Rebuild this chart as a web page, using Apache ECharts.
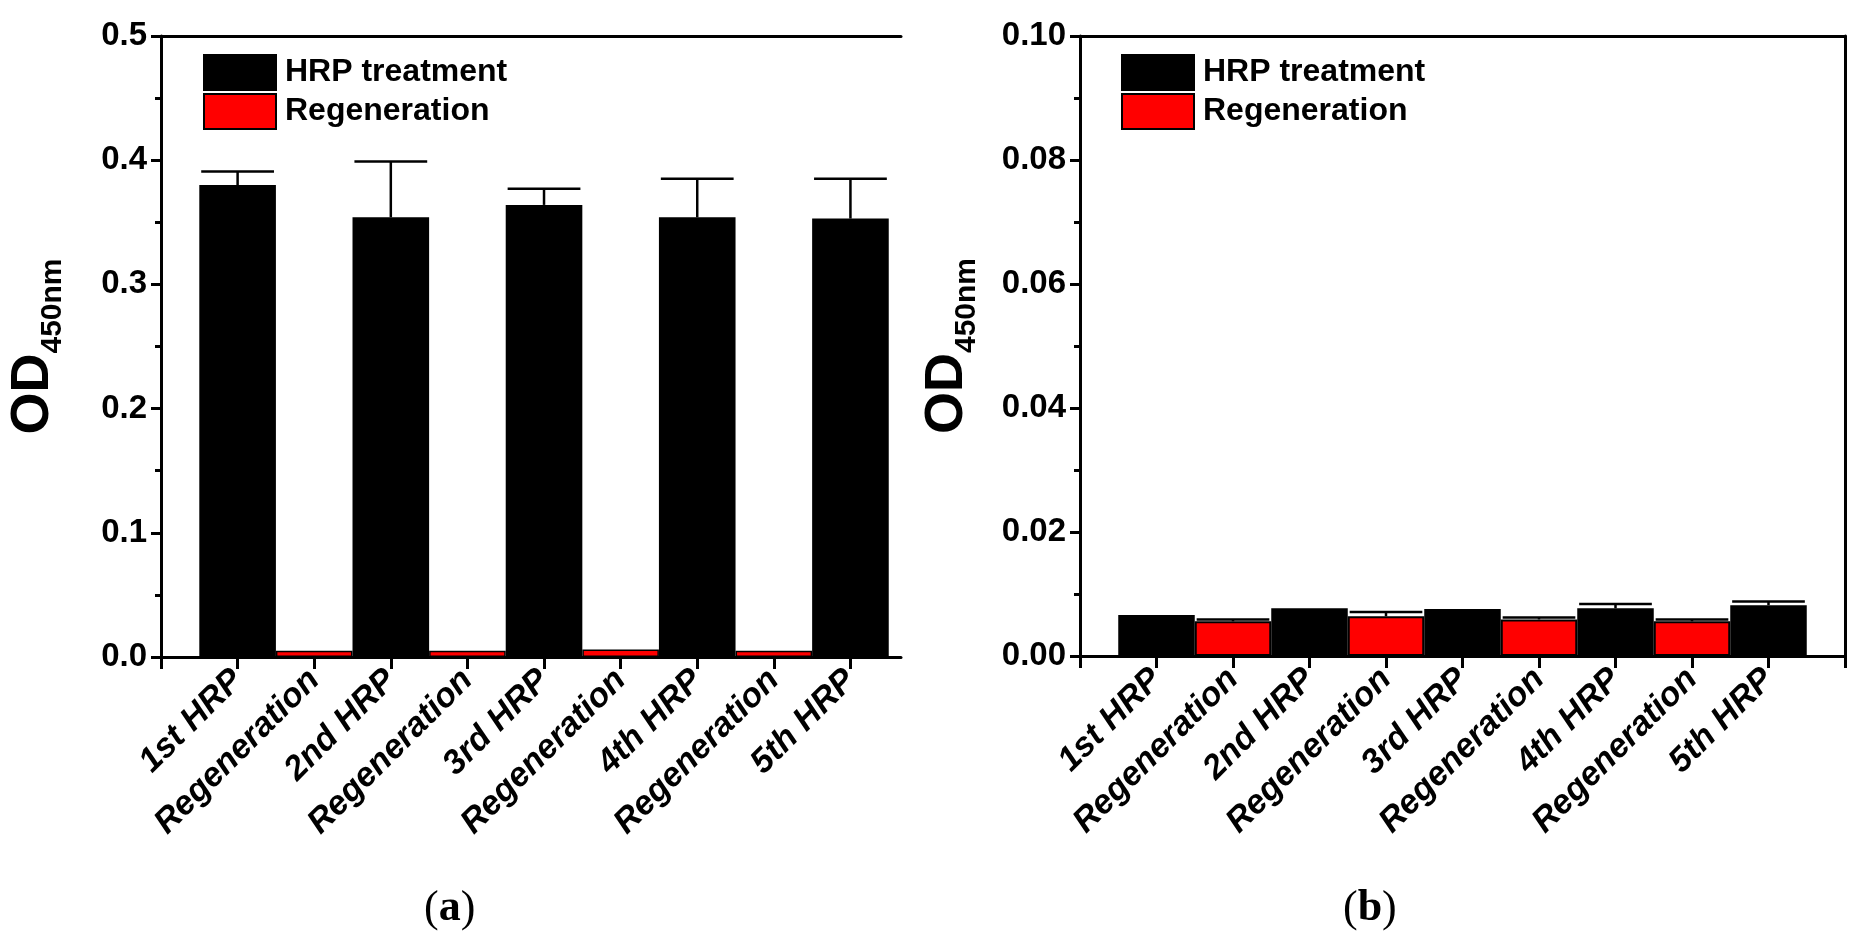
<!DOCTYPE html>
<html>
<head>
<meta charset="utf-8">
<script src="https://cdn.jsdelivr.net/npm/echarts@6/dist/echarts.min.js"></script>
<style>
html,body{margin:0;padding:0;background:#fff;}
#c{width:1863px;height:947px;}
</style>
</head>
<body>
<div id="c"></div>
<script>
const categories = ['1st HRP','Regeneration','2nd HRP','Regeneration','3rd HRP','Regeneration','4th HRP','Regeneration','5th HRP'];
const seriesNames = ['HRP treatment','Regeneration'];
// panel (a)
const hrpA = [0.380, 0.354, 0.364, 0.354, 0.353];
const hrpErrA = [0.011, 0.045, 0.013, 0.031, 0.032];
const regenA = [0.005, 0.005, 0.006, 0.005];
const regenErrA = [0, 0, 0, 0];
const yTicksA = [0, 0.1, 0.2, 0.3, 0.4, 0.5];
// panel (b)
const hrpB = [0.0066, 0.0077, 0.0076, 0.0077, 0.0082];
const hrpErrB = [0, 0, 0, 0.0007, 0.0006];
const regenB = [0.0056, 0.0064, 0.0059, 0.0056];
const regenErrB = [0.0003, 0.0007, 0.0003, 0.0003];
const yTicksB = [0, 0.02, 0.04, 0.06, 0.08, 0.10];

const hrpPos = hrpA.map((_, i) => 2 * i + 1);
const regenPos = regenA.map((_, i) => 2 * i + 2);

const FONT = 'Liberation Sans, Arial, sans-serif';
const SERIF = 'Liberation Serif, Times New Roman, serif';

function pairs(pos, vals) { return pos.map((p, i) => [p, vals[i]]); }
function triples(pos, vals, errs) { return pos.map((p, i) => [p, vals[i], errs[i]]); }

function errRender(params, api) {
  const x = api.value(0), v = api.value(1), e = api.value(2);
  if (!(e > 0)) return null;
  const p0 = api.coord([x, v]);
  const p1 = api.coord([x, v + e]);
  const half = api.size([0.95, 0])[0] / 2;
  const st = { stroke: '#000', lineWidth: 2.5 };
  return {
    type: 'group',
    children: [
      { type: 'line', shape: { x1: p0[0], y1: p0[1], x2: p1[0], y2: p1[1] }, style: st },
      { type: 'line', shape: { x1: p1[0] - half, y1: p1[1], x2: p1[0] + half, y2: p1[1] }, style: st }
    ]
  };
}

function xAxisBottom(grid, max, tickVals) {
  return {
    type: 'value', gridIndex: grid, min: 0, max: max, interval: 1, position: 'bottom',
    axisLine: { show: true, onZero: false, lineStyle: { color: '#000', width: 3 } },
    axisTick: { show: true, customValues: tickVals, length: 12, lineStyle: { color: '#000', width: 3 } },
    axisLabel: {
      show: true, customValues: categories.map((_, i) => i + 1),
      formatter: v => categories[Math.round(v) - 1] || '',
      rotate: 45, margin: 18, color: '#000', fontFamily: FONT, fontWeight: 'bold', fontStyle: 'italic', fontSize: 34
    },
    splitLine: { show: false }
  };
}
function xAxisTop(grid, max) {
  return {
    type: 'value', gridIndex: grid, min: 0, max: max, position: 'top',
    axisLine: { show: true, onZero: false, lineStyle: { color: '#000', width: 3 } },
    axisTick: { show: false }, axisLabel: { show: false }, splitLine: { show: false }
  };
}
function yAxisLeft(grid, ticks, digits, gap) {
  return {
    type: 'value', gridIndex: grid, min: ticks[0], max: ticks[ticks.length - 1],
    interval: ticks[1] - ticks[0], position: 'left',
    name: '{a|OD}{b|450nm}', nameLocation: 'middle', nameRotate: 90, nameGap: gap,
    nameTextStyle: {
      rich: {
        a: { fontFamily: FONT, fontWeight: 'bold', fontSize: 54, color: '#000', verticalAlign: 'top', lineHeight: 62 },
        b: { fontFamily: FONT, fontWeight: 'bold', fontSize: 30, color: '#000', verticalAlign: 'bottom', lineHeight: 30 }
      }
    },
    axisLine: { show: true, onZero: false, lineStyle: { color: '#000', width: 3 } },
    axisTick: { show: true, length: 10, lineStyle: { color: '#000', width: 3 } },
    minorTick: { show: true, splitNumber: 2, length: 6, lineStyle: { color: '#000', width: 3 } },
    axisLabel: { color: '#000', fontFamily: FONT, fontWeight: 'bold', fontSize: 33, margin: 14,
      formatter: v => v.toFixed(digits) },
    splitLine: { show: false }
  };
}

function legendAt(left) {
  return { left: left, top: 49, orient: 'vertical', itemWidth: 72, itemHeight: 35, itemGap: 2,
    icon: 'rect', data: seriesNames, selectedMode: false,
    itemStyle: { borderColor: '#000', borderWidth: 2 },
    textStyle: { fontFamily: FONT, fontWeight: 'bold', fontSize: 32, color: '#000', padding: [0, 0, 0, 4] } };
}

function caption(left, letter) {
  return { type: 'text', left: left, top: 887,
    style: { text: '({b|' + letter + '})', fontFamily: SERIF, fontSize: 44, fill: '#000',
      rich: { b: { fontFamily: SERIF, fontWeight: 'bold', fontSize: 44, fill: '#000' } } } };
}

const barCommon = { type: 'bar', barWidth: '100%', barGap: '-100%', z: 2 };

const option = {
  backgroundColor: '#fff',
  animation: false,
  grid: [
    { left: 161, top: 36, width: 740, height: 621 },
    { left: 1080, top: 36, width: 765, height: 620 }
  ],
  xAxis: [
    xAxisBottom(0, 9.66, [0,1,2,3,4,5,6,7,8,9]),
    xAxisBottom(1, 10, [0,1,2,3,4,5,6,7,8,9,10]),
    xAxisTop(0, 9.66),
    xAxisTop(1, 10)
  ],
  yAxis: [
    yAxisLeft(0, yTicksA, 1, 93),
    yAxisLeft(1, yTicksB, 2, 98),
    { type: 'value', gridIndex: 1, min: 0, max: 0.1, position: 'right',
      axisLine: { show: true, onZero: false, lineStyle: { color: '#000', width: 3 } },
      axisTick: { show: false }, axisLabel: { show: false }, splitLine: { show: false } }
  ],
  legend: [ legendAt(198), legendAt(1116) ],
  graphic: [ caption(424, 'a'), caption(1343, 'b') ],
  series: [
    Object.assign({}, barCommon, { name: seriesNames[0], xAxisIndex: 0, yAxisIndex: 0, data: pairs(hrpPos, hrpA),
      itemStyle: { color: '#000', borderColor: '#000', borderWidth: 2 } }),
    Object.assign({}, barCommon, { name: seriesNames[1], xAxisIndex: 0, yAxisIndex: 0, data: pairs(regenPos, regenA),
      itemStyle: { color: '#ff0000', borderColor: '#000', borderWidth: 1.5 } }),
    { type: 'custom', name: 'errA1', xAxisIndex: 0, yAxisIndex: 0, renderItem: errRender, z: 5,
      encode: { x: 0, y: 1 }, data: triples(hrpPos, hrpA, hrpErrA) },
    { type: 'custom', name: 'errA2', xAxisIndex: 0, yAxisIndex: 0, renderItem: errRender, z: 5,
      encode: { x: 0, y: 1 }, data: triples(regenPos, regenA, regenErrA) },
    Object.assign({}, barCommon, { name: seriesNames[0], xAxisIndex: 1, yAxisIndex: 1, data: pairs(hrpPos, hrpB),
      itemStyle: { color: '#000', borderColor: '#000', borderWidth: 2 } }),
    Object.assign({}, barCommon, { name: seriesNames[1], xAxisIndex: 1, yAxisIndex: 1, data: pairs(regenPos, regenB),
      itemStyle: { color: '#ff0000', borderColor: '#000', borderWidth: 2 } }),
    { type: 'custom', name: 'errB1', xAxisIndex: 1, yAxisIndex: 1, renderItem: errRender, z: 5,
      encode: { x: 0, y: 1 }, data: triples(hrpPos, hrpB, hrpErrB) },
    { type: 'custom', name: 'errB2', xAxisIndex: 1, yAxisIndex: 1, renderItem: errRender, z: 5,
      encode: { x: 0, y: 1 }, data: triples(regenPos, regenB, regenErrB) }
  ]
};

const chart = echarts.init(document.getElementById('c'));
chart.setOption(option);
</script>
</body>
</html>
